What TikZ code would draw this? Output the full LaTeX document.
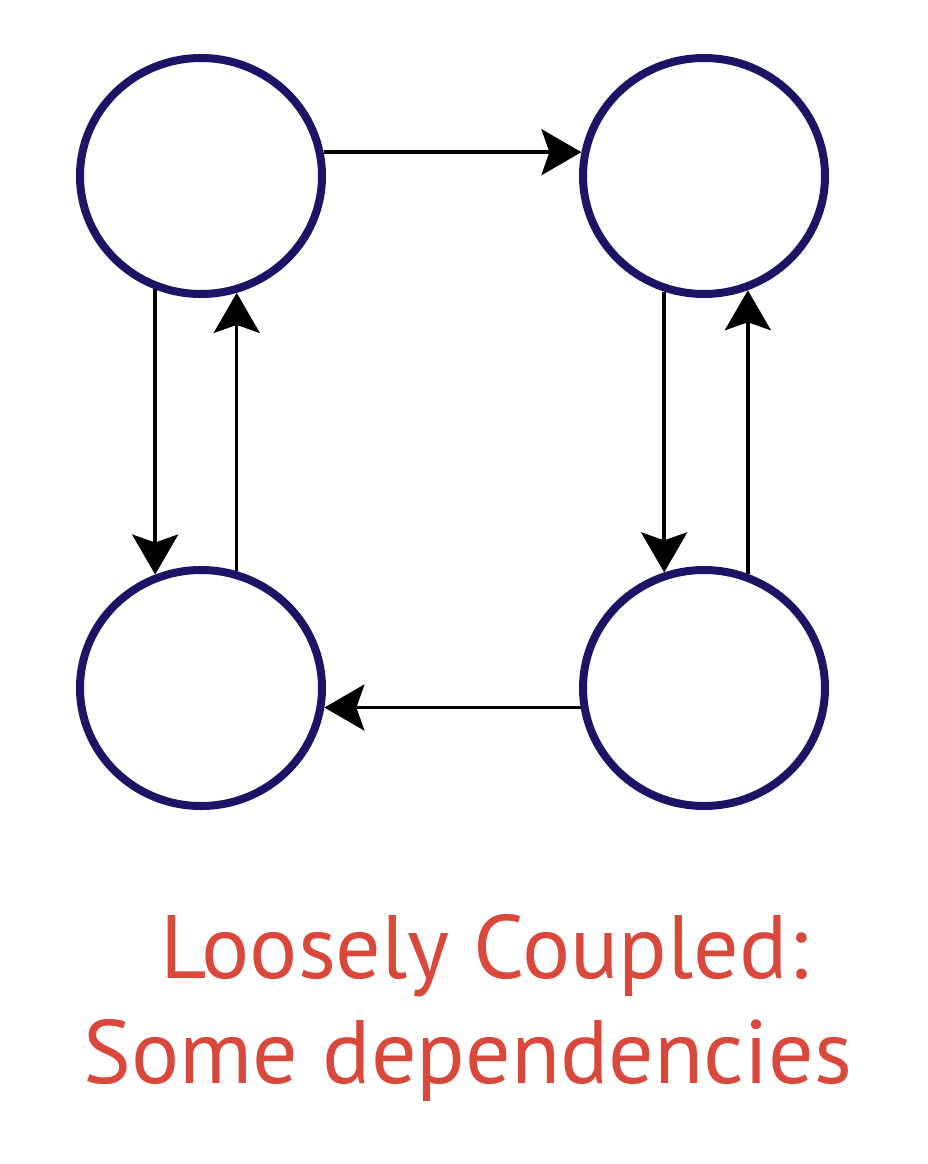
\documentclass[tikz,border=0pt]{standalone}
\usepackage{fontspec}
\setmainfont{PT Sans}
\usetikzlibrary{shapes.geometric,arrows.meta}
\definecolor{navy}{HTML}{1E1466}
\definecolor{capred}{HTML}{D9483B}
\tikzset{
  comp/.style={ellipse, draw=navy, line width=8pt, fill=white, inner sep=0pt,
    minimum width=242pt, minimum height=236pt},
  dep/.style={line width=3.5pt, draw=black,
    -{Stealth[length=40pt, width=46pt, inset=8pt]}},
  caption/.style={text=capred, inner sep=0pt, anchor=base,
    font=\fontsize{90}{105}\selectfont}
}
\begin{document}
\begin{tikzpicture}[x=1pt,y=-1pt]
\useasboundingbox (0,0) rectangle (928,1164);
\fill[white] (0,0) rectangle (928,1164);
\node[comp] (tl) at (201,176) {};
\node[comp] (tr) at (704,176) {};
\node[comp] (bl) at (201,688) {};
\node[comp] (br) at (704,688) {};
\draw[dep] (tl.11) -- (tr.169);
\draw[dep] (br.189) -- (bl.351);
\draw[dep] (tl.248.5) -- (bl.112);
\draw[dep] (bl.73) -- (tl.287);
\draw[dep] (tr.251) -- (br.109);
\draw[dep] (br.69) -- (tr.291);
\node[caption] (c1) at (484,978) {Loosely Coupled:};
\node[caption] (c2) at (468,1083) {Some dependencies};
\end{tikzpicture}
\end{document}
